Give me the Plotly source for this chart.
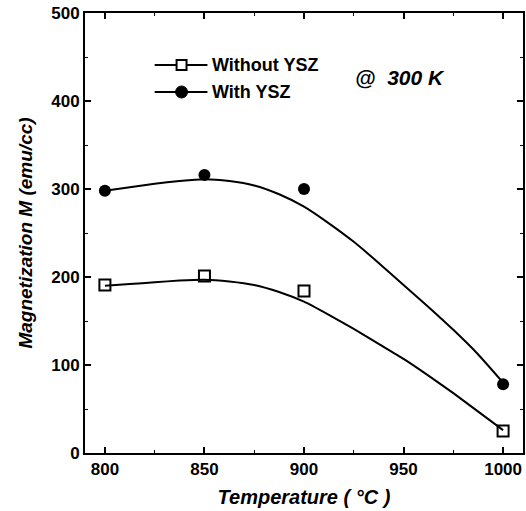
import plotly.graph_objects as go

# Measured data points
temperature = [800, 850, 900, 1000]
m_without_ysz = [191, 201, 184, 25]
m_with_ysz = [298, 316, 300, 78]

# Smooth guide curves as drawn in the figure
fit_temperature = [800, 812.5, 825, 837.5, 850, 862.5, 875, 887.5, 900,
                   912.5, 925, 937.5, 950, 962.5, 975, 987.5, 1000]
fit_without_ysz = [190, 192, 194, 196, 197, 195, 191, 183, 172,
                   157, 141, 124, 107, 88, 68, 47, 26]
fit_with_ysz = [298, 302, 306, 309, 311, 309, 304, 294, 280,
                261, 240, 216, 191, 166, 140, 112, 80]

x_ticks = [800, 850, 900, 950, 1000]
y_ticks = [0, 100, 200, 300, 400, 500]

series_names = ["Without YSZ", "With YSZ"]

FONT = "Liberation Sans, Arial, sans-serif"

fig = go.Figure()

# fit curves
for fit in (fit_without_ysz, fit_with_ysz):
    fig.add_trace(go.Scatter(x=fit_temperature, y=fit, mode="lines",
                             line=dict(color="black", width=2, shape="spline", smoothing=0.5),
                             showlegend=False, hoverinfo="skip"))

# data markers
fig.add_trace(go.Scatter(x=temperature, y=m_without_ysz, mode="markers", name=series_names[0],
                         marker=dict(symbol="square-open", size=11, color="black",
                                     line=dict(width=2, color="black")),
                         showlegend=False))
fig.add_trace(go.Scatter(x=temperature, y=m_with_ysz, mode="markers", name=series_names[1],
                         marker=dict(symbol="circle", size=12, color="black"),
                         showlegend=False))

axis_common = dict(
    showline=True, linecolor="black", linewidth=2, mirror="ticks",
    ticks="inside", ticklen=6, tickwidth=1.5, tickcolor="black",
    showgrid=False, zeroline=False,
    tickfont=dict(family=FONT, size=17, color="black", weight="bold"),
)

fig.update_xaxes(range=[790, 1010], tickvals=x_ticks,
                 minor=dict(ticks="inside", ticklen=3, tickwidth=1.2, tickcolor="black", dtick=25),
                 title=dict(text="<b><i>Temperature ( °C )</i></b>", standoff=12,
                            font=dict(family=FONT, size=20, color="black")),
                 **axis_common)
fig.update_yaxes(range=[0, 500], tickvals=y_ticks,
                 minor=dict(ticks="inside", ticklen=3, tickwidth=1.2, tickcolor="black", dtick=50),
                 title=dict(text="<b><i>Magnetization M (emu/cc)</i></b>", standoff=14,
                            font=dict(family=FONT, size=19, color="black")),
                 **axis_common)

# hand-drawn style legend (paper coordinates)
PLOT_L, PLOT_W, PLOT_B, PLOT_H = 85, 440, 453, 440
def px(xpix):
    return (xpix - PLOT_L) / PLOT_W
def py(ypix):
    return (PLOT_B - ypix) / PLOT_H

legend_rows = [65, 92]
for i, (name, row) in enumerate(zip(series_names, legend_rows)):
    yc = py(row)
    fig.add_shape(type="line", xref="paper", yref="paper",
                  x0=px(155), x1=px(208), y0=yc, y1=yc,
                  line=dict(color="black", width=2))
    if i == 0:
        fig.add_shape(type="rect", xref="paper", yref="paper",
                      x0=px(177), x1=px(187), y0=py(row + 5), y1=py(row - 5),
                      line=dict(color="black", width=2), fillcolor="white")
    else:
        fig.add_shape(type="circle", xref="paper", yref="paper",
                      x0=px(176), x1=px(188), y0=py(row + 6), y1=py(row - 6),
                      line=dict(color="black", width=1), fillcolor="black")
    fig.add_annotation(text=f"<b>{name}</b>", xref="paper", yref="paper",
                       x=px(211), y=yc, xanchor="left", yanchor="middle", showarrow=False,
                       font=dict(family=FONT, size=18, color="black"))

fig.add_annotation(text="<b><i>@&nbsp;&nbsp;300 K</i></b>", xref="paper", yref="paper",
                   x=px(354), y=py(78), xanchor="left", yanchor="middle", showarrow=False,
                   font=dict(family=FONT, size=21, color="black"))

fig.update_layout(
    width=526, height=511,
    margin=dict(l=85, r=1, t=13, b=58),
    paper_bgcolor="white", plot_bgcolor="white",
    showlegend=False,
)

fig.write_html("out.html")
